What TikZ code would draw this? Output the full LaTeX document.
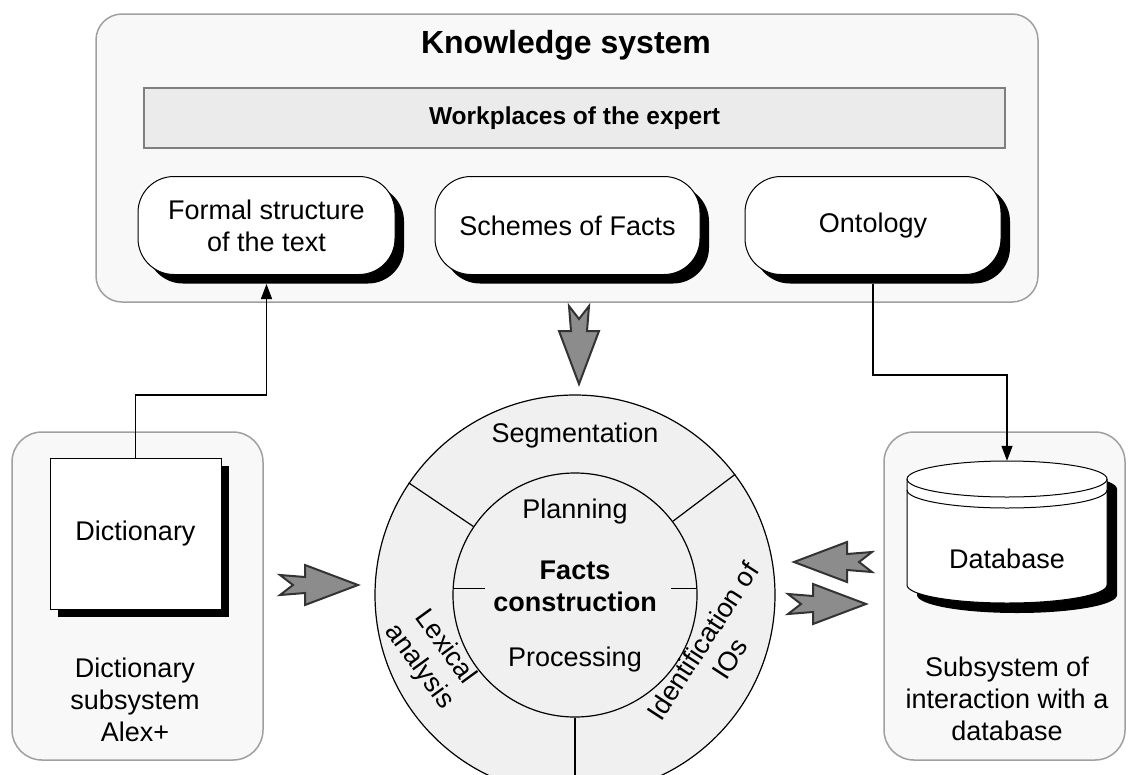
\documentclass[tikz,border=0pt]{standalone}
\usepackage{fontspec}
\setmainfont{Liberation Sans}
\usetikzlibrary{arrows.meta,shadows,calc}
\definecolor{ctnfill}{HTML}{F8F8F8}
\definecolor{ctnline}{HTML}{A0A0A0}
\definecolor{barfill}{HTML}{EBEBEB}
\definecolor{barline}{HTML}{7F7F7F}
\definecolor{ringfill}{HTML}{F0F0F0}
\definecolor{zzfill}{HTML}{8C8C8C}
\definecolor{zzline}{HTML}{333333}
\tikzset{
  txt/.style={font=\fontsize{27}{32}\selectfont, align=center, inner sep=0pt},
  container/.style={draw=ctnline, fill=ctnfill, line width=1.5pt, rounded corners=26pt, inner sep=0pt},
  bar/.style={draw=barline, fill=barfill, line width=1.5pt, inner sep=0pt},
  pillbox/.style={draw=black, fill=white, line width=1pt, rounded corners=36pt, txt,
     minimum width=#1, minimum height=98pt,
     drop shadow={shadow xshift=9pt, shadow yshift=-9pt, fill=black, opacity=1}},
  dictbox/.style={draw=black, fill=white, line width=1pt, txt,
     minimum width=171pt, minimum height=151pt,
     drop shadow={shadow xshift=8pt, shadow yshift=-8pt, fill=black, opacity=1}},
  ringline/.style={draw=black, line width=1.2pt},
  conn/.style={draw=black, line width=1.3pt, -{Triangle[length=15pt,width=11pt]}},
  zzshape/.style={draw=zzline, fill=zzfill, line width=2pt, line join=miter},
  zz/.pic={\path[zzshape] (0,10) -- (25,8) -- (25,20) -- (78,0) -- (25,-20) -- (25,-8) -- (0,-10) -- (13,0) -- cycle;}
}
\begin{document}
\begin{tikzpicture}[x=1pt,y=-1pt]
\clip (0,0) rectangle (1129,774);
\fill[white] (0,0) rectangle (1129,774);

% knowledge system container
\node[container, minimum width=942pt, minimum height=288pt] (ks) at (567,158) {};
\node[font=\fontsize{32}{38}\selectfont\bfseries, inner sep=0pt] (kstitle) at (566,45) {Knowledge system};
\node[bar, minimum width=861pt, minimum height=60pt, font=\fontsize{24.5}{29}\selectfont\bfseries] (wp) at (574.5,118) {Workplaces of the expert};
\node[pillbox=257pt] (formal) at (266.5,225.5) {Formal structure\\of the text};
\node[pillbox=265pt] (schemes) at (567.5,225.5) {Schemes of Facts};
\node[pillbox=256pt] (onto) at (873,225.5) {Ontology};

% left and right containers
\node[container, rounded corners=30pt, minimum width=251pt, minimum height=328pt] (leftbox) at (137.5,596) {};
\node[container, rounded corners=30pt, minimum width=241pt, minimum height=328pt] (rightbox) at (1004.5,596) {};

\node[dictbox] (dict) at (135.5,533.5) {Dictionary};
\node[txt] (dictlabel) at (135,700) {Dictionary\\subsystem\\Alex+};
\node[txt] (dblabel) at (1007,699) {Subsystem of\\interaction with a\\database};

% database cylinder
\node[minimum width=200pt, minimum height=142pt, inner sep=0pt] (db) at (1007,532) {};
\fill[black] (917,489) -- (917,595) arc[start angle=180,end angle=0,x radius=100,y radius=18]
   -- (1117,489) arc[start angle=0,end angle=-180,x radius=100,y radius=18] -- cycle;
\draw[fill=white, line width=1pt] (907,479) -- (907,585) arc[start angle=180,end angle=0,x radius=100,y radius=18]
   -- (1107,479) arc[start angle=0,end angle=-180,x radius=100,y radius=18] -- cycle;
\draw[line width=1pt] (1107,479) arc[start angle=0,end angle=180,x radius=100,y radius=18];
\draw[line width=1pt] (1107,490) arc[start angle=0,end angle=180,x radius=100,y radius=18];
\node[txt] (dbtext) at (1007,559) {Database};

% facts construction circle
\node[circle, ringline, fill=ringfill, minimum size=400pt, inner sep=0pt] (ring) at (575,595) {};
\node[circle, ringline, fill=ringfill, minimum size=244pt, inner sep=0pt] (core) at (575,595) {};
\draw[ringline] (core.37) -- (ring.37);
\draw[ringline] (core.146) -- (ring.146);
\draw[ringline] (core.270) -- (ring.270);
\draw[ringline] (core.177) -- ++(32,0);
\draw[ringline] (core.3) -- ++(-26,0);

\node[txt] (seg) at (575,436) {Segmentation};
\node[txt] (plan) at (575,512) {Planning};
\node[txt, font=\fontsize{27}{32}\selectfont\bfseries] (facts) at (575,586) {Facts\\construction};
\node[txt] (proc) at (575,660) {Processing};
\node[txt, rotate=-54] (lex) at (432,657) {Lexical\\analysis};
\node[txt, rotate=57] (ident) at (716,650) {Identification of\\IOs};

% connectors
\coordinate (bendA) at (0,395);
\coordinate (bendB) at (0,375);
\draw[conn] (dict.north) |- (formal.south |- bendA) -- ([yshift=-9pt]formal.south);
\draw[conn] ([yshift=-9pt]onto.south) |- (db.north |- bendB) -- (db.north);

% zigzag arrows
\pic[rotate=-90] at (579,306) {zz};
\pic at (280,585) {zz};
\pic[rotate=180] at (872,562) {zz};
\pic at (788,604) {zz};
\end{tikzpicture}
\end{document}
